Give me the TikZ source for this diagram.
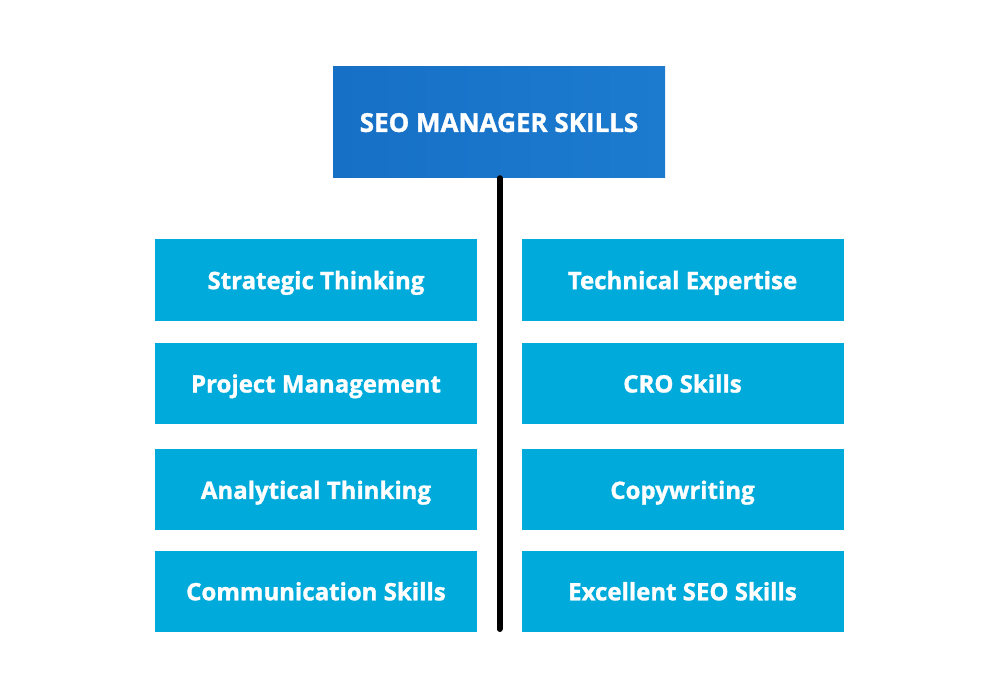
\documentclass[tikz,border=0pt]{standalone}
\usepackage{fontspec}
\setmainfont{Open Sans}[BoldFeatures={FakeBold=1.2}]
\usepackage{tikz}
\usetikzlibrary{positioning}
\definecolor{headblue}{HTML}{1670C6}
\definecolor{headblueR}{HTML}{1C7BCF}
\definecolor{skillcyan}{HTML}{00ABDB}
\tikzstyle{headbox}=[rectangle,left color=headblue,right color=headblueR,text=white,minimum width=332pt,minimum height=111pt,inner sep=0pt,text depth=0pt,font=\fontsize{26}{31}\selectfont\bfseries]
\tikzstyle{skill}=[rectangle,fill=skillcyan,text=white,minimum width=322pt,minimum height=81pt,inner sep=0pt,text depth=0pt,font=\fontsize{24}{29}\selectfont\bfseries]

\begin{document}
\begin{tikzpicture}[x=1pt,y=-1pt]
\useasboundingbox (0,0) rectangle (1000,700);
\node [headbox] (head) at (499,122.5) {SEO MANAGER SKILLS};
% left column
\node [skill] (strat) at (316,280) {Strategic Thinking};
\node [skill,below=22pt of strat] (proj) {Project Management};
\node [skill,below=25pt of proj] (anal) {Analytical Thinking};
\node [skill,below=20pt of anal] (comm) {Communication Skills};
% right column
\node [skill] (tech) at (682.5,280) {Technical Expertise};
\node [skill,below=22pt of tech] (cro) {CRO Skills};
\node [skill,below=25pt of cro] (copy) {Copywriting};
\node [skill,below=20pt of copy] (excel) {Excellent SEO Skills};
\coordinate (spine) at (499.5,629);
\draw [line width=6pt,line cap=round] (head.south -| spine) -- (spine);
\end{tikzpicture}
\end{document}
